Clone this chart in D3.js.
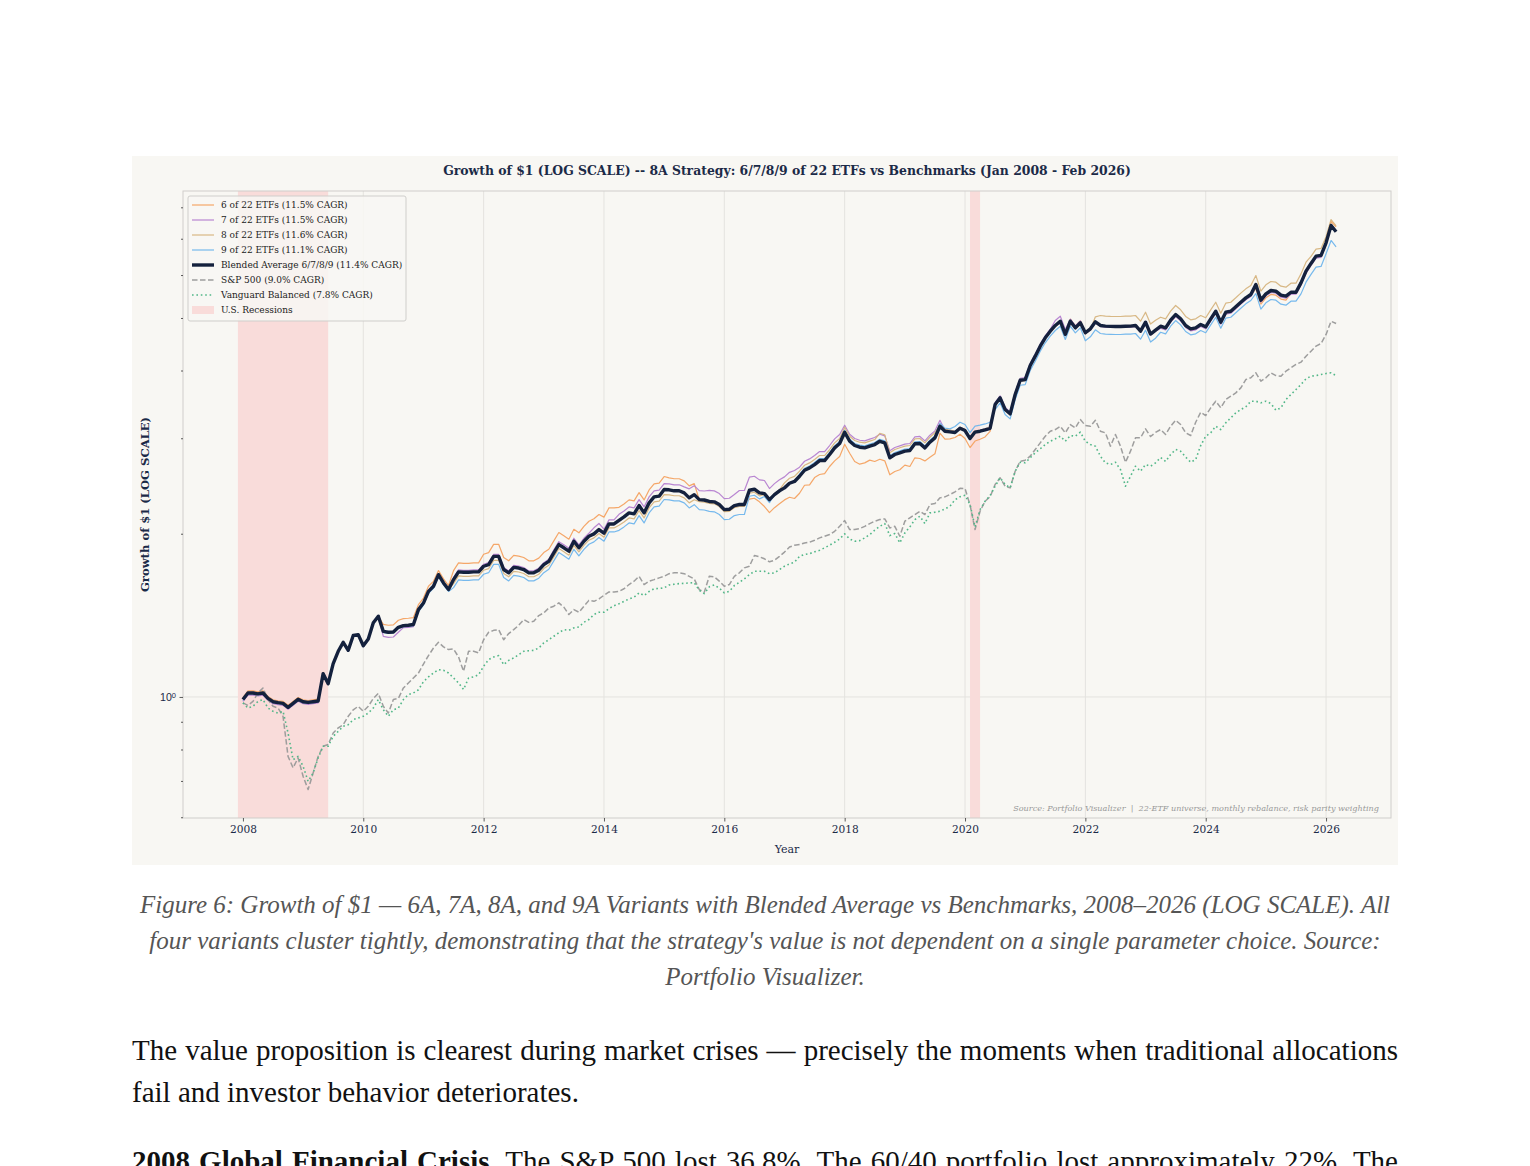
<!DOCTYPE html>
<html>
<head>
<meta charset="utf-8">
<script src="https://cdn.jsdelivr.net/npm/d3@7"></script>
<style>
  body { margin: 0; background: #ffffff; width: 1530px; height: 1166px; overflow: hidden; font-family: "Liberation Serif", "Times New Roman", serif; }
  #chart { position: absolute; left: 132px; top: 156px; }
  .caption { position: absolute; left: 132px; top: 887px; width: 1266px; margin: 0; text-align: center; font-style: italic; font-size: 25px; line-height: 36px; color: #555555; }
  .para { position: absolute; left: 132px; width: 1266px; margin: 0; font-size: 29px; line-height: 42px; color: #111111; text-align: justify; }
  .para.cut { text-align-last: justify; }
</style>
</head>
<body>
<div id="chart"></div>
<p class="caption">Figure 6: Growth of $1 — 6A, 7A, 8A, and 9A Variants with Blended Average vs Benchmarks, 2008–2026 (LOG SCALE). All four variants cluster tightly, demonstrating that the strategy's value is not dependent on a single parameter choice. Source: Portfolio Visualizer.</p>
<p class="para" style="top:1029px">The value proposition is clearest during market crises — precisely the moments when traditional allocations fail and investor behavior deteriorates.</p>
<p class="para cut" style="top:1140px"><b>2008 Global Financial Crisis.</b> The S&amp;P 500 lost 36.8%. The 60/40 portfolio lost approximately 22%. The</p>
<script>
// ---- data: monthly growth of $1, Jan 2008 onward (one row per year) ----
const startYear = 2008

const etf6 = [
  0.997, 1.026, 1.026, 1.022, 1.026, 1.002, 0.988, 0.984, 0.981, 0.965, 0.981, 0.998,
  0.988, 0.985, 0.988, 0.991, 1.110, 1.058, 1.152, 1.214, 1.261, 1.219, 1.298, 1.303,
  1.243, 1.279, 1.370, 1.409, 1.361, 1.356, 1.358, 1.385, 1.395, 1.397, 1.401, 1.480,
  1.522, 1.600, 1.634, 1.710, 1.651, 1.605, 1.710, 1.767, 1.764, 1.764, 1.767, 1.767,
  1.833, 1.846, 1.912, 1.912, 1.808, 1.783, 1.825, 1.819, 1.808, 1.783, 1.783, 1.803,
  1.846, 1.872, 1.940, 2.010, 1.983, 1.954, 2.038, 2.008, 2.064, 2.109, 2.131, 2.170,
  2.146, 2.232, 2.232, 2.237, 2.270, 2.309, 2.300, 2.382, 2.309, 2.409, 2.472, 2.479,
  2.550, 2.536, 2.526, 2.526, 2.503, 2.451, 2.474, 2.312, 2.308, 2.294, 2.290, 2.264,
  2.216, 2.219, 2.254, 2.264, 2.264, 2.316, 2.325, 2.290, 2.245, 2.188, 2.234, 2.271,
  2.309, 2.335, 2.323, 2.375, 2.457, 2.461, 2.539, 2.572, 2.582, 2.661, 2.725, 2.776,
  2.925, 2.815, 2.718, 2.687, 2.702, 2.734, 2.718, 2.744, 2.726, 2.569, 2.605, 2.624,
  2.676, 2.661, 2.761, 2.753, 2.725, 2.768, 2.808, 3.065, 2.988, 2.993, 3.010, 3.051,
  2.996, 2.884, 2.965, 2.988, 3.017, 3.090, 3.461, 3.562, 3.390, 3.328, 3.612, 3.838,
  3.849, 4.087, 4.251, 4.436, 4.597, 4.727, 4.843, 4.932, 4.662, 4.974, 4.836, 4.940,
  4.695, 4.775, 4.919, 4.843, 4.830, 4.825, 4.822, 4.822, 4.828, 4.830, 4.843, 4.727,
  4.911, 4.670, 4.747, 4.808, 4.775, 4.932, 5.053, 4.961, 4.823, 4.755, 4.775, 4.843,
  4.796, 4.961, 5.123, 4.890, 5.102, 5.123, 5.221, 5.325, 5.423, 5.501, 5.666, 5.302,
  5.447, 5.525, 5.508, 5.416, 5.393, 5.555, 5.555, 5.780, 6.073, 6.277, 6.474, 6.494,
  6.939, 7.532, 7.364
]

const etf7 = [
  0.981, 1.008, 1.008, 1.004, 1.008, 0.986, 0.972, 0.968, 0.965, 0.949, 0.965, 0.982,
  0.972, 0.969, 0.972, 0.975, 1.099, 1.054, 1.147, 1.209, 1.256, 1.214, 1.293, 1.298,
  1.238, 1.274, 1.364, 1.403, 1.293, 1.288, 1.290, 1.316, 1.342, 1.344, 1.348, 1.449,
  1.490, 1.566, 1.600, 1.681, 1.623, 1.578, 1.660, 1.715, 1.712, 1.712, 1.715, 1.715,
  1.757, 1.769, 1.832, 1.832, 1.733, 1.708, 1.749, 1.744, 1.733, 1.708, 1.708, 1.728,
  1.769, 1.794, 1.868, 1.934, 1.908, 1.881, 1.962, 1.908, 1.962, 2.004, 2.051, 2.089,
  2.039, 2.121, 2.121, 2.172, 2.203, 2.241, 2.232, 2.312, 2.241, 2.339, 2.399, 2.407,
  2.475, 2.472, 2.462, 2.462, 2.440, 2.420, 2.453, 2.402, 2.398, 2.404, 2.399, 2.372,
  2.322, 2.325, 2.362, 2.403, 2.403, 2.543, 2.553, 2.514, 2.507, 2.423, 2.474, 2.515,
  2.546, 2.596, 2.616, 2.653, 2.721, 2.748, 2.788, 2.835, 2.835, 2.909, 2.992, 3.048,
  3.171, 3.051, 2.997, 2.975, 2.967, 2.989, 3.009, 3.051, 3.031, 2.844, 2.885, 2.905,
  2.926, 2.934, 3.018, 3.023, 2.967, 3.039, 3.096, 3.238, 3.104, 3.096, 3.088, 3.143,
  3.113, 3.009, 3.093, 3.104, 3.121, 3.143, 3.490, 3.592, 3.419, 3.356, 3.643, 3.871,
  3.882, 4.122, 4.287, 4.474, 4.636, 4.767, 4.947, 5.038, 4.762, 4.974, 4.836, 4.940,
  4.675, 4.755, 4.898, 4.823, 4.810, 4.805, 4.802, 4.802, 4.808, 4.810, 4.823, 4.707,
  4.890, 4.650, 4.727, 4.787, 4.754, 4.911, 5.031, 4.940, 4.802, 4.734, 4.754, 4.822,
  4.775, 4.940, 5.101, 4.869, 5.080, 5.101, 5.198, 5.302, 5.400, 5.477, 5.714, 5.347,
  5.493, 5.571, 5.554, 5.461, 5.438, 5.531, 5.531, 5.755, 6.047, 6.249, 6.446, 6.466,
  6.822, 7.437, 7.240
]

const etf8 = [
  0.993, 1.021, 1.021, 1.017, 1.021, 0.998, 0.984, 0.980, 0.977, 0.961, 0.977, 0.994,
  0.984, 0.981, 0.984, 0.987, 1.104, 1.058, 1.152, 1.214, 1.261, 1.219, 1.298, 1.303,
  1.243, 1.279, 1.370, 1.409, 1.321, 1.316, 1.318, 1.344, 1.354, 1.356, 1.360, 1.449,
  1.490, 1.566, 1.600, 1.681, 1.623, 1.578, 1.618, 1.672, 1.669, 1.669, 1.672, 1.672,
  1.713, 1.725, 1.786, 1.786, 1.689, 1.666, 1.705, 1.700, 1.689, 1.666, 1.666, 1.684,
  1.725, 1.749, 1.813, 1.878, 1.852, 1.826, 1.904, 1.852, 1.904, 1.946, 1.965, 2.002,
  1.971, 2.050, 2.050, 2.073, 2.103, 2.139, 2.130, 2.207, 2.139, 2.232, 2.290, 2.297,
  2.362, 2.359, 2.350, 2.350, 2.329, 2.280, 2.311, 2.292, 2.288, 2.275, 2.271, 2.245,
  2.197, 2.200, 2.235, 2.245, 2.245, 2.375, 2.385, 2.349, 2.362, 2.302, 2.371, 2.410,
  2.482, 2.531, 2.551, 2.608, 2.675, 2.702, 2.741, 2.788, 2.788, 2.860, 2.942, 2.997,
  3.144, 3.026, 2.972, 2.950, 2.942, 2.963, 2.984, 3.064, 3.044, 2.820, 2.860, 2.881,
  2.901, 2.909, 2.993, 2.997, 2.942, 3.013, 3.070, 3.184, 3.117, 3.109, 3.088, 3.143,
  3.113, 3.009, 3.093, 3.104, 3.121, 3.143, 3.446, 3.547, 3.376, 3.314, 3.597, 3.822,
  3.833, 4.070, 4.233, 4.417, 4.578, 4.707, 4.823, 4.911, 4.642, 4.911, 4.775, 4.877,
  4.675, 4.755, 5.025, 5.053, 5.040, 5.034, 5.031, 5.031, 5.038, 5.040, 5.053, 4.932,
  5.124, 4.873, 4.953, 5.016, 4.982, 5.146, 5.272, 5.176, 5.032, 4.961, 4.982, 5.053,
  5.004, 5.176, 5.346, 5.103, 5.324, 5.346, 5.447, 5.556, 5.658, 5.739, 5.988, 5.603,
  5.756, 5.838, 5.820, 5.723, 5.699, 5.796, 5.796, 6.030, 6.337, 6.493, 6.697, 6.718,
  7.059, 7.596, 7.395
]

const etf9 = [
  0.985, 1.013, 1.013, 1.009, 1.013, 0.990, 0.976, 0.972, 0.969, 0.953, 0.969, 0.986,
  0.976, 0.973, 0.976, 0.979, 1.099, 1.054, 1.147, 1.209, 1.256, 1.214, 1.293, 1.298,
  1.238, 1.274, 1.364, 1.403, 1.315, 1.310, 1.312, 1.338, 1.348, 1.350, 1.354, 1.437,
  1.477, 1.553, 1.586, 1.667, 1.609, 1.565, 1.591, 1.644, 1.641, 1.641, 1.644, 1.644,
  1.684, 1.695, 1.756, 1.756, 1.661, 1.637, 1.676, 1.671, 1.661, 1.637, 1.637, 1.656,
  1.695, 1.720, 1.782, 1.846, 1.821, 1.795, 1.872, 1.821, 1.872, 1.913, 1.932, 1.968,
  1.938, 2.015, 2.015, 2.029, 2.059, 2.094, 2.085, 2.160, 2.094, 2.185, 2.242, 2.248,
  2.313, 2.310, 2.300, 2.300, 2.280, 2.232, 2.263, 2.216, 2.212, 2.199, 2.195, 2.170,
  2.124, 2.127, 2.160, 2.170, 2.170, 2.345, 2.355, 2.319, 2.342, 2.283, 2.361, 2.400,
  2.430, 2.478, 2.497, 2.575, 2.641, 2.667, 2.706, 2.752, 2.752, 2.824, 2.904, 2.959,
  3.104, 2.987, 2.934, 2.913, 2.904, 2.926, 2.946, 2.987, 2.967, 2.784, 2.824, 2.844,
  2.864, 2.872, 2.955, 2.959, 2.904, 2.975, 3.031, 3.197, 3.131, 3.122, 3.154, 3.211,
  3.180, 3.073, 3.159, 3.171, 3.188, 3.211, 3.388, 3.487, 3.319, 3.258, 3.536, 3.757,
  3.768, 4.001, 4.162, 4.343, 4.500, 4.628, 4.741, 4.828, 4.564, 4.828, 4.694, 4.795,
  4.538, 4.616, 4.755, 4.681, 4.669, 4.664, 4.661, 4.661, 4.667, 4.669, 4.681, 4.569,
  4.747, 4.514, 4.589, 4.706, 4.674, 4.828, 4.946, 4.856, 4.721, 4.655, 4.674, 4.740,
  4.695, 4.856, 5.015, 4.787, 4.995, 5.015, 5.111, 5.212, 5.309, 5.385, 5.547, 5.191,
  5.332, 5.408, 5.392, 5.301, 5.279, 5.369, 5.369, 5.539, 5.821, 6.016, 6.205, 6.224,
  6.567, 6.948, 6.764
]

const blended = [
  0.989, 1.017, 1.017, 1.013, 1.017, 0.994, 0.980, 0.976, 0.973, 0.957, 0.973, 0.990,
  0.980, 0.977, 0.980, 0.983, 1.104, 1.058, 1.152, 1.214, 1.261, 1.219, 1.298, 1.303,
  1.243, 1.279, 1.370, 1.409, 1.321, 1.316, 1.318, 1.344, 1.354, 1.356, 1.360, 1.449,
  1.490, 1.566, 1.600, 1.681, 1.623, 1.578, 1.646, 1.701, 1.698, 1.698, 1.701, 1.701,
  1.742, 1.754, 1.817, 1.817, 1.718, 1.694, 1.734, 1.729, 1.718, 1.694, 1.694, 1.713,
  1.754, 1.779, 1.844, 1.910, 1.884, 1.857, 1.937, 1.884, 1.937, 1.979, 1.999, 2.036,
  2.005, 2.085, 2.085, 2.117, 2.148, 2.185, 2.176, 2.254, 2.185, 2.280, 2.339, 2.346,
  2.413, 2.410, 2.400, 2.400, 2.379, 2.329, 2.361, 2.312, 2.308, 2.294, 2.290, 2.264,
  2.216, 2.219, 2.254, 2.264, 2.264, 2.406, 2.416, 2.379, 2.372, 2.312, 2.361, 2.400,
  2.430, 2.478, 2.497, 2.553, 2.619, 2.645, 2.683, 2.729, 2.729, 2.800, 2.880, 2.934,
  3.078, 2.962, 2.909, 2.888, 2.880, 2.901, 2.921, 2.962, 2.942, 2.761, 2.800, 2.820,
  2.840, 2.848, 2.930, 2.934, 2.880, 2.950, 3.005, 3.157, 3.091, 3.083, 3.075, 3.130,
  3.100, 2.996, 3.080, 3.091, 3.108, 3.130, 3.461, 3.562, 3.390, 3.328, 3.612, 3.838,
  3.849, 4.087, 4.251, 4.436, 4.597, 4.727, 4.843, 4.932, 4.662, 4.932, 4.795, 4.898,
  4.695, 4.775, 4.919, 4.843, 4.830, 4.825, 4.822, 4.822, 4.828, 4.830, 4.843, 4.727,
  4.911, 4.670, 4.747, 4.828, 4.795, 4.953, 5.074, 4.982, 4.843, 4.775, 4.795, 4.863,
  4.816, 4.982, 5.145, 4.911, 5.124, 5.145, 5.243, 5.347, 5.446, 5.524, 5.763, 5.393,
  5.540, 5.619, 5.602, 5.508, 5.485, 5.578, 5.578, 5.804, 6.099, 6.303, 6.501, 6.521,
  6.881, 7.405, 7.209
]

const sp500 = [
  0.975, 0.965, 0.981, 1.017, 1.039, 0.989, 0.961, 0.954, 0.921, 0.777, 0.740, 0.772,
  0.714, 0.675, 0.724, 0.777, 0.811, 0.817, 0.858, 0.877, 0.889, 0.921, 0.947, 0.961,
  0.941, 0.961, 0.994, 1.015, 0.961, 0.934, 0.989, 0.994, 1.039, 1.061, 1.084, 1.107,
  1.150, 1.192, 1.231, 1.261, 1.237, 1.223, 1.226, 1.185, 1.115, 1.214, 1.214, 1.206,
  1.275, 1.316, 1.327, 1.331, 1.275, 1.309, 1.331, 1.356, 1.389, 1.373, 1.379, 1.413,
  1.429, 1.459, 1.470, 1.491, 1.464, 1.419, 1.449, 1.433, 1.470, 1.507, 1.501, 1.516,
  1.540, 1.562, 1.562, 1.566, 1.583, 1.612, 1.635, 1.669, 1.612, 1.635, 1.646, 1.658,
  1.669, 1.688, 1.694, 1.694, 1.688, 1.669, 1.651, 1.578, 1.560, 1.669, 1.665, 1.635,
  1.600, 1.612, 1.669, 1.694, 1.730, 1.742, 1.823, 1.813, 1.798, 1.775, 1.787, 1.817,
  1.850, 1.890, 1.905, 1.910, 1.923, 1.929, 1.945, 1.965, 1.979, 1.993, 2.021, 2.064,
  2.115, 2.036, 2.036, 2.044, 2.064, 2.088, 2.109, 2.124, 2.130, 2.050, 2.064, 1.979,
  2.109, 2.140, 2.170, 2.200, 2.170, 2.264, 2.274, 2.329, 2.339, 2.362, 2.390, 2.425,
  2.423, 2.260, 2.036, 2.200, 2.296, 2.340, 2.465, 2.536, 2.447, 2.430, 2.608, 2.721,
  2.733, 2.780, 2.860, 2.942, 3.026, 3.091, 3.113, 3.157, 3.070, 3.180, 3.135, 3.248,
  3.167, 3.157, 3.239, 3.091, 3.070, 2.901, 3.048, 2.901, 2.709, 2.840, 3.005, 3.005,
  3.122, 3.022, 3.076, 3.113, 3.048, 3.157, 3.239, 3.180, 3.070, 3.035, 3.211, 3.351,
  3.304, 3.414, 3.511, 3.414, 3.536, 3.586, 3.638, 3.716, 3.849, 3.878, 3.961, 3.822,
  3.878, 3.961, 3.915, 3.905, 3.988, 4.046, 4.104, 4.144, 4.251, 4.342, 4.436, 4.486,
  4.662, 4.932, 4.884
]

const vanguard = [
  0.975, 0.954, 0.961, 0.981, 0.989, 0.954, 0.941, 0.934, 0.941, 0.858, 0.766, 0.777,
  0.745, 0.699, 0.724, 0.772, 0.811, 0.811, 0.846, 0.864, 0.883, 0.889, 0.908, 0.915,
  0.921, 0.934, 0.954, 0.989, 0.947, 0.921, 0.947, 0.954, 0.989, 1.010, 1.017, 1.031,
  1.067, 1.089, 1.107, 1.123, 1.120, 1.107, 1.084, 1.061, 1.032, 1.084, 1.089, 1.099,
  1.139, 1.172, 1.185, 1.192, 1.147, 1.168, 1.180, 1.197, 1.214, 1.217, 1.219, 1.231,
  1.258, 1.275, 1.294, 1.313, 1.331, 1.327, 1.341, 1.346, 1.373, 1.389, 1.419, 1.433,
  1.433, 1.455, 1.473, 1.486, 1.501, 1.516, 1.527, 1.556, 1.538, 1.565, 1.583, 1.585,
  1.589, 1.609, 1.614, 1.618, 1.620, 1.623, 1.625, 1.573, 1.551, 1.596, 1.609, 1.587,
  1.556, 1.566, 1.605, 1.627, 1.651, 1.681, 1.705, 1.705, 1.705, 1.688, 1.694, 1.718,
  1.742, 1.760, 1.772, 1.817, 1.831, 1.838, 1.852, 1.864, 1.884, 1.905, 1.929, 1.956,
  1.999, 1.956, 1.937, 1.942, 1.965, 1.993, 2.030, 2.064, 2.088, 1.984, 2.002, 1.924,
  2.007, 2.059, 2.124, 2.154, 2.088, 2.185, 2.191, 2.200, 2.223, 2.247, 2.310, 2.340,
  2.355, 2.264, 2.059, 2.216, 2.296, 2.352, 2.447, 2.536, 2.465, 2.430, 2.608, 2.709,
  2.703, 2.761, 2.820, 2.868, 2.921, 2.962, 2.992, 3.026, 2.962, 3.035, 3.026, 3.078,
  2.962, 2.921, 2.901, 2.780, 2.703, 2.683, 2.709, 2.627, 2.447, 2.553, 2.664, 2.608,
  2.683, 2.664, 2.703, 2.764, 2.718, 2.800, 2.860, 2.840, 2.770, 2.710, 2.740, 2.909,
  3.026, 3.070, 3.157, 3.113, 3.203, 3.272, 3.342, 3.390, 3.429, 3.511, 3.511, 3.487,
  3.511, 3.477, 3.380, 3.414, 3.536, 3.612, 3.690, 3.770, 3.861, 3.905, 3.915, 3.932,
  3.950, 3.961, 3.915
]

const seriesLabels = [
  '6 of 22 ETFs (11.5% CAGR)',
  '7 of 22 ETFs (11.5% CAGR)',
  '8 of 22 ETFs (11.6% CAGR)',
  '9 of 22 ETFs (11.1% CAGR)',
  'Blended Average 6/7/8/9 (11.4% CAGR)',
  'S&P 500 (9.0% CAGR)',
  'Vanguard Balanced (7.8% CAGR)'
]

// U.S. recessions as decimal years (Dec 2007 - Jun 2009, Feb 2020 - Apr 2020)
const recessionStarts = [2007 + 11 / 12, 2020 + 1 / 12]
const recessionEnds = [2009 + 5 / 12, 2020 + 3 / 12]

const xTickYears = [2008, 2010, 2012, 2014, 2016, 2018, 2020, 2022, 2024, 2026]

// ---- styles ----
const styles = [
  { color: '#f4a261', width: 1.2, dash: null, opacity: 0.95 },
  { color: '#b57fd0', width: 1.2, dash: null, opacity: 0.95 },
  { color: '#d6b47e', width: 1.2, dash: null, opacity: 0.95 },
  { color: '#6fb5ec', width: 1.2, dash: null, opacity: 0.95 },
  { color: '#14213d', width: 3.4, dash: null, opacity: 1 },
  { color: '#999999', width: 1.5, dash: '5.5,2.5', opacity: 0.95 },
  { color: '#52b788', width: 1.6, dash: '1.6,2.8', opacity: 1 }
]
const recessionColor = '#f9dcda'
const ink = '#1b2a47'
const bg = '#f8f7f3'

const allSeries = [etf6, etf7, etf8, etf9, blended, sp500, vanguard]
const dates = blended.map((d, i) => startYear + i / 12)

// ---- layout ----
const W = 1266
const H = 709
const plot = { left: 51, right: 1259, top: 35, bottom: 662 }

const svg = d3.select('#chart').append('svg')
  .attr('width', W)
  .attr('height', H)
  .style('font-family', '"DejaVu Serif", serif')

svg.append('rect').attr('width', W).attr('height', H).attr('fill', bg)

// x limits with a 5% margin like matplotlib autoscale
const xMin = Math.min(d3.min(dates), d3.min(recessionStarts))
const xMax = Math.max(d3.max(dates), d3.max(recessionEnds))
const xPad = (xMax - xMin) * 0.05
const x = d3.scaleLinear()
  .domain([xMin - xPad, xMax + xPad])
  .range([plot.left, plot.right])

const logLo = Math.log10(d3.min(allSeries.flat()))
const logHi = Math.log10(d3.max(allSeries.flat()))
const yPad = (logHi - logLo) * 0.05
const y = d3.scaleLog()
  .domain([Math.pow(10, logLo - yPad), Math.pow(10, logHi + yPad)])
  .range([plot.bottom, plot.top])

// clip for the plot area
svg.append('clipPath').attr('id', 'plot-clip')
  .append('rect')
  .attr('x', plot.left).attr('y', plot.top)
  .attr('width', plot.right - plot.left).attr('height', plot.bottom - plot.top)

// grid
const yTicks = y.ticks()
const yMajor = yTicks.filter(v => Math.abs(Math.log10(v) - Math.round(Math.log10(v))) < 1e-9)
const yMinor = yTicks.filter(v => !yMajor.includes(v))

const grid = svg.append('g').attr('class', 'grid')
grid.selectAll('line.vx')
  .data(xTickYears)
  .join('line')
  .attr('x1', d => x(d)).attr('x2', d => x(d))
  .attr('y1', plot.top).attr('y2', plot.bottom)
  .attr('stroke', '#e4e3df').attr('stroke-width', 1)
grid.selectAll('line.hy')
  .data(yMajor)
  .join('line')
  .attr('x1', plot.left).attr('x2', plot.right)
  .attr('y1', d => y(d)).attr('y2', d => y(d))
  .attr('stroke', '#e4e3df').attr('stroke-width', 1)

// recession shading
svg.append('g').attr('clip-path', 'url(#plot-clip)')
  .selectAll('rect')
  .data(recessionStarts.map((s, i) => [s, recessionEnds[i]]))
  .join('rect')
  .attr('x', d => x(d[0]))
  .attr('width', d => x(d[1]) - x(d[0]))
  .attr('y', plot.top)
  .attr('height', plot.bottom - plot.top)
  .attr('fill', recessionColor)

// lines
const line = d3.line()
  .x((d, i) => x(dates[i]))
  .y(d => y(d))

const drawOrder = [0, 1, 2, 3, 5, 6, 4]
svg.append('g').attr('clip-path', 'url(#plot-clip)')
  .selectAll('path')
  .data(drawOrder)
  .join('path')
  .attr('d', k => line(allSeries[k]))
  .attr('fill', 'none')
  .attr('stroke', k => styles[k].color)
  .attr('stroke-width', k => styles[k].width)
  .attr('stroke-dasharray', k => styles[k].dash)
  .attr('stroke-opacity', k => styles[k].opacity)
  .attr('stroke-linejoin', 'round')

// frame
svg.append('rect')
  .attr('x', plot.left).attr('y', plot.top)
  .attr('width', plot.right - plot.left).attr('height', plot.bottom - plot.top)
  .attr('fill', 'none')
  .attr('stroke', '#cfcecb')
  .attr('stroke-width', 1)

// x axis
const xAxis = svg.append('g')
  .attr('transform', `translate(0,${plot.bottom})`)
  .call(d3.axisBottom(x).tickValues(xTickYears).tickFormat(d3.format('d')).tickSize(3.5).tickPadding(4))
xAxis.select('.domain').remove()
xAxis.selectAll('line').attr('stroke', '#333333').attr('stroke-width', 0.8)
xAxis.selectAll('text').attr('fill', ink).attr('font-size', 10.6).attr('font-family', '"DejaVu Serif", serif')

// y axis (log): major label as 10^0, minor ticks unlabeled
const yAxisMinor = svg.append('g')
  .attr('transform', `translate(${plot.left},0)`)
  .call(d3.axisLeft(y).tickValues(yMinor).tickFormat('').tickSize(2))
yAxisMinor.select('.domain').remove()
yAxisMinor.selectAll('line').attr('stroke', '#333333').attr('stroke-width', 0.8)

const yAxisMajor = svg.append('g')
  .attr('transform', `translate(${plot.left},0)`)
  .call(d3.axisLeft(y).tickValues(yMajor).tickFormat('').tickSize(3.5))
yAxisMajor.select('.domain').remove()
yAxisMajor.selectAll('line').attr('stroke', '#333333').attr('stroke-width', 0.8)
yAxisMajor.selectAll('.tick').each(function (d) {
  const t = d3.select(this).append('text')
    .attr('x', -7).attr('dy', '0.35em')
    .attr('text-anchor', 'end')
    .attr('fill', ink)
    .attr('font-size', 10.6)
  t.append('tspan').text('10')
  t.append('tspan').text(Math.round(Math.log10(d))).attr('dy', '-0.45em').attr('font-size', 7.5)
})

// titles
svg.append('text')
  .text('Growth of $1 (LOG SCALE) -- 8A Strategy: 6/7/8/9 of 22 ETFs vs Benchmarks (Jan 2008 - Feb 2026)')
  .attr('x', (plot.left + plot.right) / 2).attr('y', 18.5)
  .attr('text-anchor', 'middle')
  .attr('font-weight', 'bold')
  .attr('font-size', 12.4)
  .attr('fill', ink)

svg.append('text')
  .text('Year')
  .attr('x', (plot.left + plot.right) / 2).attr('y', 697)
  .attr('text-anchor', 'middle')
  .attr('font-size', 11)
  .attr('fill', ink)

svg.append('text')
  .text('Growth of $1 (LOG SCALE)')
  .attr('transform', `translate(17,${(plot.top + plot.bottom) / 2}) rotate(-90)`)
  .attr('text-anchor', 'middle')
  .attr('font-weight', 'bold')
  .attr('font-size', 11.6)
  .attr('fill', ink)

svg.append('text')
  .text('Source: Portfolio Visualizer  |  22-ETF universe, monthly rebalance, risk parity weighting')
  .attr('x', plot.right - 12).attr('y', plot.bottom - 7)
  .attr('text-anchor', 'end')
  .attr('font-style', 'italic')
  .attr('font-size', 8.1)
  .attr('fill', '#999999')
  .style('white-space', 'pre')

// legend
const legend = svg.append('g').attr('transform', `translate(${plot.left + 5},${plot.top + 5})`)
legend.append('rect')
  .attr('width', 218).attr('height', 125)
  .attr('rx', 2)
  .attr('fill', bg).attr('fill-opacity', 0.85)
  .attr('stroke', '#cfcecb')

const legendRows = seriesLabels.map((label, k) => ({ label, k })).concat([{ label: 'U.S. Recessions', k: -1 }])
const rows = legend.selectAll('g.row')
  .data(legendRows)
  .join('g')
  .attr('class', 'row')
  .attr('transform', (d, i) => `translate(0,${9 + i * 15})`)

rows.filter(d => d.k >= 0).append('line')
  .attr('x1', 4).attr('x2', 26)
  .attr('stroke', d => styles[d.k].color)
  .attr('stroke-width', d => styles[d.k].width)
  .attr('stroke-dasharray', d => styles[d.k].dash)
  .attr('stroke-opacity', d => styles[d.k].opacity)

rows.filter(d => d.k < 0).append('rect')
  .attr('x', 4).attr('y', -4).attr('width', 22).attr('height', 8)
  .attr('fill', recessionColor)

rows.append('text')
  .text(d => d.label)
  .attr('x', 33).attr('dy', '0.35em')
  .attr('font-size', 9)
  .attr('fill', '#222222')
</script>
</body>
</html>
